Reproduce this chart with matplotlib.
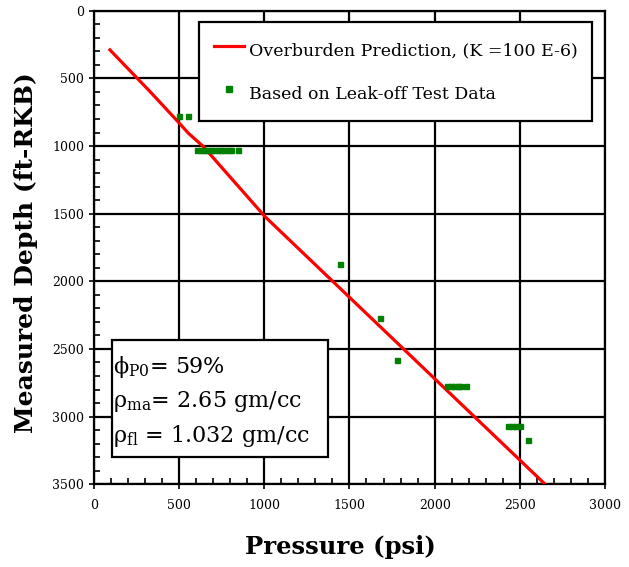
import matplotlib
matplotlib.use('Agg')
import matplotlib.pyplot as plt
from matplotlib.patches import Rectangle
from matplotlib.ticker import MultipleLocator

plt.rcParams['font.family'] = 'DejaVu Serif'
plt.rcParams['mathtext.fontset'] = 'dejavuserif'

# overburden prediction curve
pred_psi = [95, 330, 506, 555, 643, 1005, 2648]
pred_depth = [289, 597, 836, 905, 1004, 1522, 3500]

# leak-off test data
lot_psi = [502, 555,
           607, 627, 647, 667, 687, 707, 727, 747, 767, 787, 807, 848,
           1445, 1680, 1781,
           2075, 2095, 2115, 2135, 2149, 2184,
           2428, 2452, 2476, 2500, 2546]
lot_depth = [777, 777,
             1029, 1029, 1029, 1029, 1029, 1029, 1029, 1029, 1029, 1029, 1029, 1029,
             1873, 2272, 2583,
             2773, 2773, 2773, 2773, 2773, 2773,
             3072, 3072, 3072, 3072, 3173]

# model parameters shown in the box
param_lines = ['ϕ$_{\\mathrm{P0}}$= 59%',
               'ρ$_{\\mathrm{ma}}$= 2.65 gm/cc',
               'ρ$_{\\mathrm{fl}}$ = 1.032 gm/cc']

fig = plt.figure(figsize=(6.29, 5.67), dpi=100)
ax = fig.add_axes([0.149, 0.146, 0.813, 0.835])

ax.plot(pred_psi, pred_depth, color='red', lw=2.3,
        label='Overburden Prediction, (K =100 E-6)', zorder=3)
ax.plot(lot_psi, lot_depth, ls='none', marker='s', ms=3.6, color='green',
        label='Based on Leak-off Test Data', zorder=4)

ax.set_xlim(0, 3000)
ax.set_ylim(3500, 0)
ax.xaxis.set_major_locator(MultipleLocator(500))
ax.xaxis.set_minor_locator(MultipleLocator(100))
ax.yaxis.set_major_locator(MultipleLocator(500))
ax.yaxis.set_minor_locator(MultipleLocator(100))
ax.grid(True, which='major', color='black', lw=1.6)
ax.set_axisbelow(True)
for s in ax.spines.values():
    s.set_linewidth(1.6)
ax.tick_params(axis='both', which='major', labelsize=9, direction='inout',
               length=7, width=1.2)
ax.tick_params(axis='x', which='major', pad=7)
ax.tick_params(axis='both', which='minor', direction='in', length=4, width=1.2)

ax.set_xlabel('Pressure (psi)', fontsize=17.5, fontweight='bold')
ax.set_ylabel('Measured Depth (ft-RKB)', fontsize=18, fontweight='bold')
ax.xaxis.set_label_coords(0.482, -0.108)
ax.yaxis.set_label_coords(-0.109, 0.489)

leg = ax.legend(loc='upper right', bbox_to_anchor=(0.975, 0.977), borderaxespad=0,
                fontsize=12.5, frameon=True, fancybox=False, edgecolor='black',
                handlelength=1.7, handleheight=2.0, handletextpad=0.3,
                labelspacing=0.95, borderpad=0.85, markerscale=1.2)
leg.get_frame().set_linewidth(1.6)
leg.get_frame().set_alpha(1)

ax.add_patch(Rectangle((0.035, 0.057), 0.4226, 0.247, transform=ax.transAxes,
                       fc='white', ec='black', lw=1.6, zorder=5))
for yy, s in zip([0.2347, 0.1628, 0.0888], param_lines):
    ax.text(0.0376, yy, s, transform=ax.transAxes, fontsize=16,
            va='baseline', ha='left', zorder=6)

fig.savefig('out.png', dpi=100)
